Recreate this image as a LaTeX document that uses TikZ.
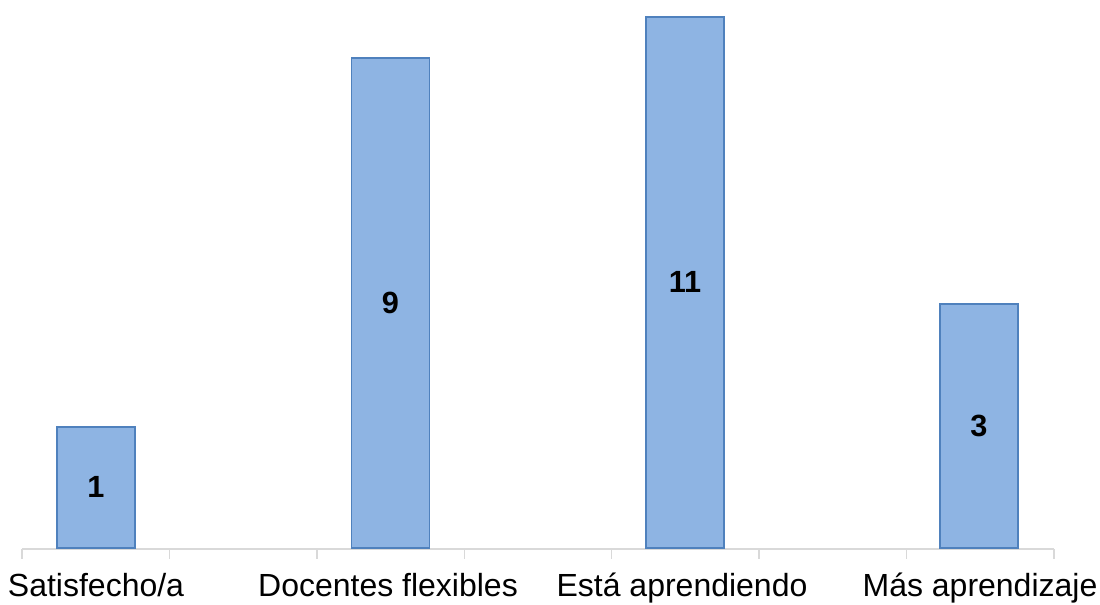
\documentclass[tikz,border=0pt]{standalone}
\usepackage{fontspec}
\setmainfont{Liberation Sans}
\definecolor{barfill}{HTML}{8EB4E3}
\definecolor{barline}{HTML}{4F81BD}
\definecolor{axisgray}{HTML}{D9D9D9}
\begin{document}
\begin{tikzpicture}[x=0.75pt,y=-0.75pt,
  bar/.style={draw=barline,line width=1.1pt,fill=barfill,anchor=south,minimum width=58.5pt,inner sep=0pt,font=\bfseries\fontsize{23}{27}\selectfont},
  catlabel/.style={anchor=base,font=\fontsize{24}{28}\selectfont,inner sep=0pt},
  axisline/.style={draw=axisgray,line width=1.1pt}]
\useasboundingbox (0,0) rectangle (1100,604);
% axis
\coordinate (axL) at (22,549);
\coordinate (axR) at (1054,549);
\draw[axisline] (axL) -- (axR);
\foreach \i in {0,...,7}{
  \coordinate (t\i) at ({22+\i*147.43},549);
  \draw[axisline] (t\i) -- ++(0,10);
}
% bars
\node[bar,minimum height=90.75pt] (b1) at (96,548.5) {1};
\node[bar,minimum height=367.5pt] (b2) at (390.5,548.5) {9};
\node[bar,minimum height=398.25pt] (b3) at (685,548.5) {11};
\node[bar,minimum height=183pt] (b4) at (979,548.5) {3};
% labels
\node[catlabel] (l1) at (96,596) {Satisfecho/a};
\node[catlabel] (l2) at (388,596) {Docentes flexibles};
\node[catlabel] (l3) at (682,596) {Está aprendiendo};
\node[catlabel] (l4) at (980,596) {Más aprendizaje};
\end{tikzpicture}
\end{document}
